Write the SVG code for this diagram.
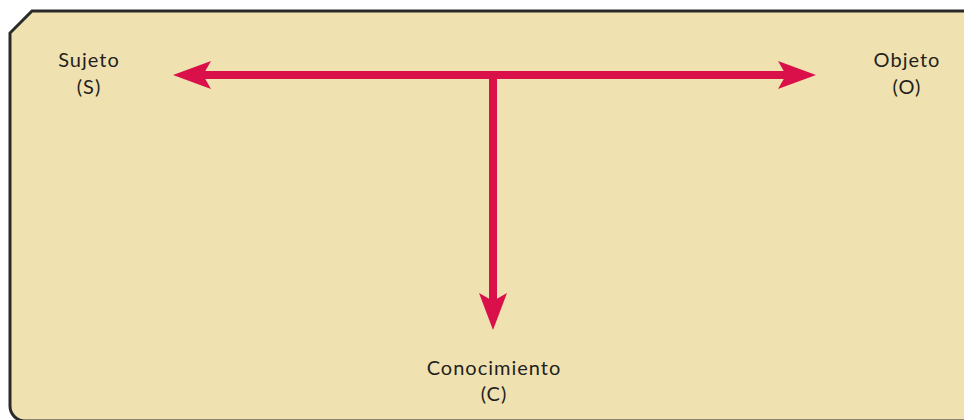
<svg xmlns="http://www.w3.org/2000/svg" width="964" height="420" viewBox="0 0 964 420">
<style>
.lbl{font-family:Lato,"Open Sans","Liberation Sans",sans-serif;font-size:20px;fill:#231f20;text-anchor:middle;letter-spacing:1px}
.conn{stroke:#d9104a;stroke-width:8;fill:none}
.head{fill:#d9104a}
</style>
<rect width="964" height="420" fill="#ffffff"/>
<path d="M 975 11 H 32 L 10 33 V 406 A 15 15 0 0 0 25 421 H 975 Z" fill="#f0e2b0" stroke="#2a2a2a" stroke-width="3"/>
<g id="connectors">
<line class="conn" x1="200" y1="75" x2="790" y2="75"/>
<line class="conn" x1="493" y1="75" x2="493" y2="305"/>
<path class="head" d="M 173 75 L 211 61 L 203 75 L 211 89 Z"/>
<path class="head" d="M 816 75 L 778 61 L 786 75 L 778 89 Z"/>
<path class="head" d="M 493 330 L 479 293 L 493 301 L 507 293 Z"/>
</g>
<g id="sujeto">
<text class="lbl" x="89" y="67">Sujeto</text>
<text class="lbl" x="89" y="94">(S)</text>
</g>
<g id="objeto">
<text class="lbl" x="907" y="67">Objeto</text>
<text class="lbl" x="907" y="94">(O)</text>
</g>
<g id="conocimiento">
<text class="lbl" x="494" y="375">Conocimiento</text>
<text class="lbl" x="494" y="401">(C)</text>
</g>
</svg>
